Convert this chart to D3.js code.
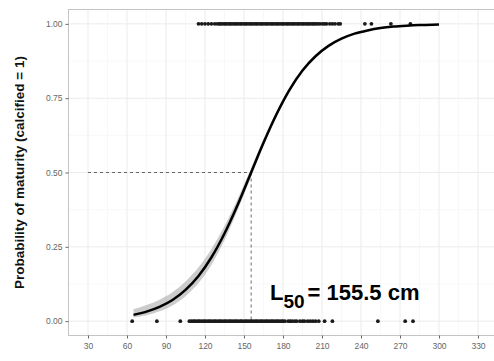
<!DOCTYPE html>
<html>
<head>
<meta charset="utf-8">
<script src="https://cdn.jsdelivr.net/npm/d3@7"></script>
<style>
  body { margin: 0; background: #fff; }
  svg { display: block; font-family: "Liberation Sans", Arial, sans-serif; }
</style>
</head>
<body>
<svg id="chart" width="494" height="361"></svg>
<script>
// tick breaks
var xBreaks = [30, 60, 90, 120, 150, 180, 210, 240, 270, 300, 330];
var yBreaks = [0, 0.25, 0.5, 0.75, 1];
var yLabels = ["0.00", "0.25", "0.50", "0.75", "1.00"];

// observed lengths (cm), immature = 0
var immatureLen = [64, 83, 101, 108, 109.5, 111, 112, 113.5, 115, 116, 117.5, 119, 120, 121.5, 123, 124,
  125.5, 127, 128, 129.5, 131, 132, 133.5, 135, 136, 137.5, 139, 140, 141.5, 143, 144, 145.5, 147, 148,
  149.5, 151, 152, 153.5, 155, 156, 157.5, 159, 160, 161.5, 163, 164, 165.5, 167, 168, 169.5, 171, 172,
  173.5, 175, 176, 177.5, 179, 180, 181.5, 184, 185.5, 187, 189, 190.5, 193, 195, 196.5, 199, 201, 203,
  205, 207.5, 212, 218, 253, 274, 280];

// observed lengths (cm), mature = 1
var matureLen = [115, 117.5, 120, 122.5, 125, 127.5, 129.5, 131, 132, 133.5, 135, 136, 137.5, 139, 140,
  141.5, 143, 144, 145.5, 147, 148, 149.5, 151, 152, 153.5, 155, 156, 157.5, 159, 160, 161.5, 163, 164,
  165.5, 167, 168, 169.5, 171, 172, 173.5, 175, 176, 177.5, 179, 180, 181.5, 183, 184, 185.5, 187, 188,
  189.5, 191, 192, 193.5, 195, 196, 197.5, 199, 200, 201.5, 203, 204, 205.5, 207, 208.5, 210.5, 212,
  213.5, 216, 218, 220, 222.5, 224, 243, 248, 263, 278];

// fitted curve
var fitLen = [65, 75, 85, 95, 105, 115, 125, 135, 145, 155, 165, 175, 185, 195, 205, 215, 225, 235, 245,
  255, 265, 275, 285, 295, 300];
var fitProb = [0.021, 0.032, 0.048, 0.071, 0.105, 0.152, 0.215, 0.295, 0.390, 0.495, 0.600, 0.696, 0.778,
  0.843, 0.891, 0.926, 0.950, 0.967, 0.978, 0.986, 0.991, 0.994, 0.996, 0.997, 0.998];
var fitLo = [0.012, 0.020, 0.033, 0.053, 0.084, 0.128, 0.190, 0.272, 0.372, 0.480, 0.588, 0.686, 0.770,
  0.837, 0.887, 0.923, 0.948, 0.966, 0.977, 0.985, 0.990, 0.993, 0.995, 0.996, 0.997];
var fitHi = [0.040, 0.054, 0.072, 0.097, 0.133, 0.181, 0.243, 0.320, 0.410, 0.510, 0.612, 0.706, 0.786,
  0.849, 0.895, 0.929, 0.952, 0.968, 0.979, 0.987, 0.992, 0.995, 0.997, 0.998, 0.999];

var L50 = 155.5;

var svg = d3.select("#chart");
var x = d3.scaleLinear().domain([15, 345]).range([68.5, 497.5]);
var y = d3.scaleLinear().domain([-0.05, 1.05]).range([336, 9]);

// minor + major grid
var xMinor = xBreaks.slice(0, -1).map(function (d) { return d + 15; }).concat([15]);
var yMinor = [0.125, 0.375, 0.625, 0.875];
svg.append("g").selectAll("line").data(xMinor).enter().append("line")
  .attr("x1", x).attr("x2", x).attr("y1", 9).attr("y2", 336)
  .attr("stroke", "#f4f4f4").attr("stroke-width", 0.6);
svg.append("g").selectAll("line").data(yMinor).enter().append("line")
  .attr("x1", 68.5).attr("x2", 494).attr("y1", y).attr("y2", y)
  .attr("stroke", "#f4f4f4").attr("stroke-width", 0.6);
svg.append("g").selectAll("line").data(xBreaks).enter().append("line")
  .attr("x1", x).attr("x2", x).attr("y1", 9).attr("y2", 336)
  .attr("stroke", "#ebebeb").attr("stroke-width", 1);
svg.append("g").selectAll("line").data(yBreaks).enter().append("line")
  .attr("x1", 68.5).attr("x2", 494).attr("y1", y).attr("y2", y)
  .attr("stroke", "#ebebeb").attr("stroke-width", 1);

// panel border
svg.append("rect").attr("x", 68.5).attr("y", 9.5).attr("width", 440).attr("height", 326)
  .attr("fill", "none").attr("stroke", "#c4c4c4").attr("stroke-width", 1);

// axes
var xAxis = svg.append("g").attr("transform", "translate(0,335.5)")
  .call(d3.axisBottom(x).tickValues(xBreaks).tickSize(3).tickPadding(4));
var yAxis = svg.append("g").attr("transform", "translate(68.5,0)")
  .call(d3.axisLeft(y).tickValues(yBreaks).tickSize(3).tickPadding(3)
    .tickFormat(function (d, i) { return yLabels[i]; }));
[xAxis, yAxis].forEach(function (a) {
  a.select(".domain").remove();
  a.selectAll(".tick line").attr("stroke", "#666");
  a.selectAll(".tick text").attr("fill", "#666").attr("font-size", "8.5px")
    .attr("font-family", "Liberation Sans, Arial, sans-serif");
});

// y title
svg.append("text")
  .attr("transform", "translate(24," + ((9 + 336) / 2) + ") rotate(-90)")
  .attr("text-anchor", "middle")
  .attr("font-size", "13.5px").attr("font-weight", "bold").attr("fill", "#111")
  .text("Probability of maturity (calcified = 1)");

// L50 reference lines
svg.append("line")
  .attr("x1", x(30)).attr("x2", x(L50)).attr("y1", y(0.5)).attr("y2", y(0.5))
  .attr("stroke", "#444").attr("stroke-width", 0.8).attr("stroke-dasharray", "3,3");
svg.append("line")
  .attr("x1", x(L50)).attr("x2", x(L50)).attr("y1", y(0.5)).attr("y2", y(0))
  .attr("stroke", "#444").attr("stroke-width", 0.8).attr("stroke-dasharray", "3,3");

// observations
var pts = immatureLen.map(function (d) { return [d, 0]; })
  .concat(matureLen.map(function (d) { return [d, 1]; }));
svg.append("g").selectAll("circle").data(pts).enter().append("circle")
  .attr("cx", function (d) { return x(d[0]); })
  .attr("cy", function (d) { return y(d[1]); })
  .attr("r", 1.9).attr("fill", "#1a1a1a");

// confidence band + fitted curve
var fit = fitLen.map(function (d, i) { return { l: d, p: fitProb[i], lo: fitLo[i], hi: fitHi[i] }; });
svg.append("path").datum(fit)
  .attr("d", d3.area().curve(d3.curveMonotoneX)
    .x(function (d) { return x(d.l); })
    .y0(function (d) { return y(d.lo); })
    .y1(function (d) { return y(d.hi); }))
  .attr("fill", "#9a9a9a").attr("opacity", 0.5);
svg.append("path").datum(fit)
  .attr("d", d3.line().curve(d3.curveMonotoneX)
    .x(function (d) { return x(d.l); })
    .y(function (d) { return y(d.p); }))
  .attr("fill", "none").attr("stroke", "#000").attr("stroke-width", 2.5);

// annotation
var ann = svg.append("text")
  .attr("x", 270).attr("y", 300)
  .attr("font-weight", "bold").attr("fill", "#000");
ann.append("tspan").attr("font-size", "22px").text("L");
ann.append("tspan").attr("font-size", "19px").attr("dy", 8).text("50");
ann.append("tspan").attr("font-size", "22px").attr("dy", -8).attr("dx", 3).text("= 155.5 cm");
</script>
</body>
</html>
